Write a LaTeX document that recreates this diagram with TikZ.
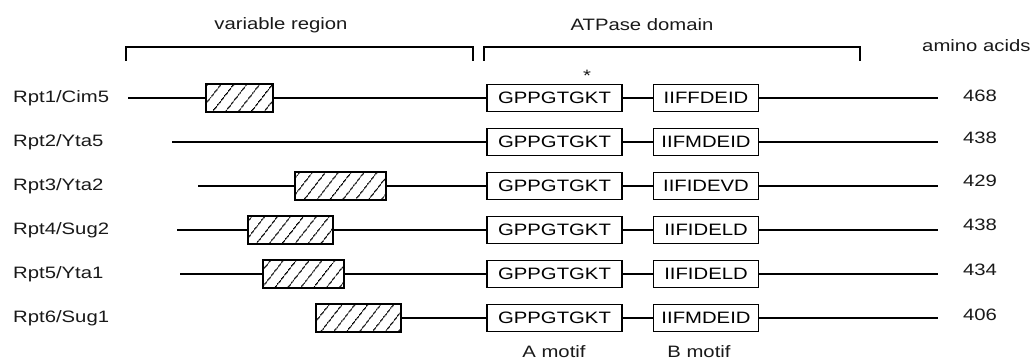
\documentclass[tikz,border=0pt]{standalone}
\usepackage{fontspec}
\setmainfont{Liberation Sans}
\usepackage{graphicx}
\usetikzlibrary{patterns.meta}
\newcommand\sx[1]{\scalebox{1.23}[1]{#1}}
\tikzset{
  lbl/.style={font=\fontsize{16.5}{18}\selectfont, inner sep=0pt, text=black!90},
  ln/.style={line width=1.5pt},
  motifA/.style={draw, line width=1.7pt, minimum width=135pt, minimum height=27pt, inner sep=0pt, outer sep=0pt, font=\fontsize{16.5}{18}\selectfont},
  motifB/.style={draw, line width=1.7pt, minimum width=105pt, minimum height=27pt, inner sep=0pt, outer sep=0pt, font=\fontsize{16.5}{18}\selectfont},
  hatch/.style={draw, line width=1.7pt, minimum height=28pt, inner sep=0pt, outer sep=0pt,
    pattern={Lines[angle=52,distance=10.5pt,line width=1.2pt]}, pattern color=black},
  brk/.style={line width=1.6pt}
}
\begin{document}
\begin{tikzpicture}[x=1pt,y=-1pt]
\useasboundingbox (0,0) rectangle (1032,363);
% headers
\node[lbl] (vr) at (281,25) {\sx{variable region}};
\node[lbl] (atp) at (642,25) {\sx{ATPase domain}};
\node[lbl, anchor=west] (aa) at (922,46) {\sx{amino acids}};
\draw[brk] (126,61) -- (126,47) -- (473,47) -- (473,61);
\draw[brk] (484,61) -- (484,47) -- (860,47) -- (860,61);
\node[lbl] (star) at (587,76) {\sx{*}};
% row 1
\node[lbl, anchor=west] (l1) at (13,98) {\sx{Rpt1/Cim5}};
\coordinate (s1) at (128,98);
\node[hatch, minimum width=67pt] (h1) at (239.5,98) {};
\node[motifA] (a1) at (554.5,98) {\sx{GPPGTGKT}};
\node[motifB] (b1) at (706,98) {\sx{IIFFDEID}};
\coordinate (e1) at (938,98);
\node[lbl] (n1) at (980,96) {\sx{468}};
\draw[ln] (s1) -- (h1.west) (h1.east) -- (a1.west) (a1.east) -- (b1.west) (b1.east) -- (e1);
% row 2
\node[lbl, anchor=west] (l2) at (13,142) {\sx{Rpt2/Yta5}};
\coordinate (s2) at (172,142);
\node[motifA] (a2) at (554.5,142) {\sx{GPPGTGKT}};
\node[motifB] (b2) at (706,142) {\sx{IIFMDEID}};
\coordinate (e2) at (938,142);
\node[lbl] (n2) at (980,138) {\sx{438}};
\draw[ln] (s2) -- (a2.west) (a2.east) -- (b2.west) (b2.east) -- (e2);
% row 3
\node[lbl, anchor=west] (l3) at (13,186) {\sx{Rpt3/Yta2}};
\coordinate (s3) at (198,186);
\node[hatch, minimum width=91pt] (h3) at (340.5,186) {};
\node[motifA] (a3) at (554.5,186) {\sx{GPPGTGKT}};
\node[motifB] (b3) at (706,186) {\sx{IIFIDEVD}};
\coordinate (e3) at (938,186);
\node[lbl] (n3) at (980,181) {\sx{429}};
\draw[ln] (s3) -- (h3.west) (h3.east) -- (a3.west) (a3.east) -- (b3.west) (b3.east) -- (e3);
% row 4
\node[lbl, anchor=west] (l4) at (13,230) {\sx{Rpt4/Sug2}};
\coordinate (s4) at (177,230);
\node[hatch, minimum width=85pt] (h4) at (290.5,230) {};
\node[motifA] (a4) at (554.5,230) {\sx{GPPGTGKT}};
\node[motifB] (b4) at (706,230) {\sx{IIFIDELD}};
\coordinate (e4) at (938,230);
\node[lbl] (n4) at (980,225) {\sx{438}};
\draw[ln] (s4) -- (h4.west) (h4.east) -- (a4.west) (a4.east) -- (b4.west) (b4.east) -- (e4);
% row 5
\node[lbl, anchor=west] (l5) at (13,274) {\sx{Rpt5/Yta1}};
\coordinate (s5) at (180,274);
\node[hatch, minimum width=81pt] (h5) at (303.5,274) {};
\node[motifA] (a5) at (554.5,274) {\sx{GPPGTGKT}};
\node[motifB] (b5) at (706,274) {\sx{IIFIDELD}};
\coordinate (e5) at (938,274);
\node[lbl] (n5) at (980,270) {\sx{434}};
\draw[ln] (s5) -- (h5.west) (h5.east) -- (a5.west) (a5.east) -- (b5.west) (b5.east) -- (e5);
% row 6
\node[lbl, anchor=west] (l6) at (13,318) {\sx{Rpt6/Sug1}};
\node[hatch, minimum width=85pt] (h6) at (358.5,318) {};
\node[motifA] (a6) at (554.5,318) {\sx{GPPGTGKT}};
\node[motifB] (b6) at (706,318) {\sx{IIFMDEID}};
\coordinate (e6) at (938,318);
\node[lbl] (n6) at (980,315) {\sx{406}};
\draw[ln] (h6.east) -- (a6.west) (a6.east) -- (b6.west) (b6.east) -- (e6);
% bottom labels
\node[lbl] (am) at (554,352) {\sx{A motif}};
\node[lbl] (bm) at (699,352) {\sx{B motif}};
\end{tikzpicture}
\end{document}
